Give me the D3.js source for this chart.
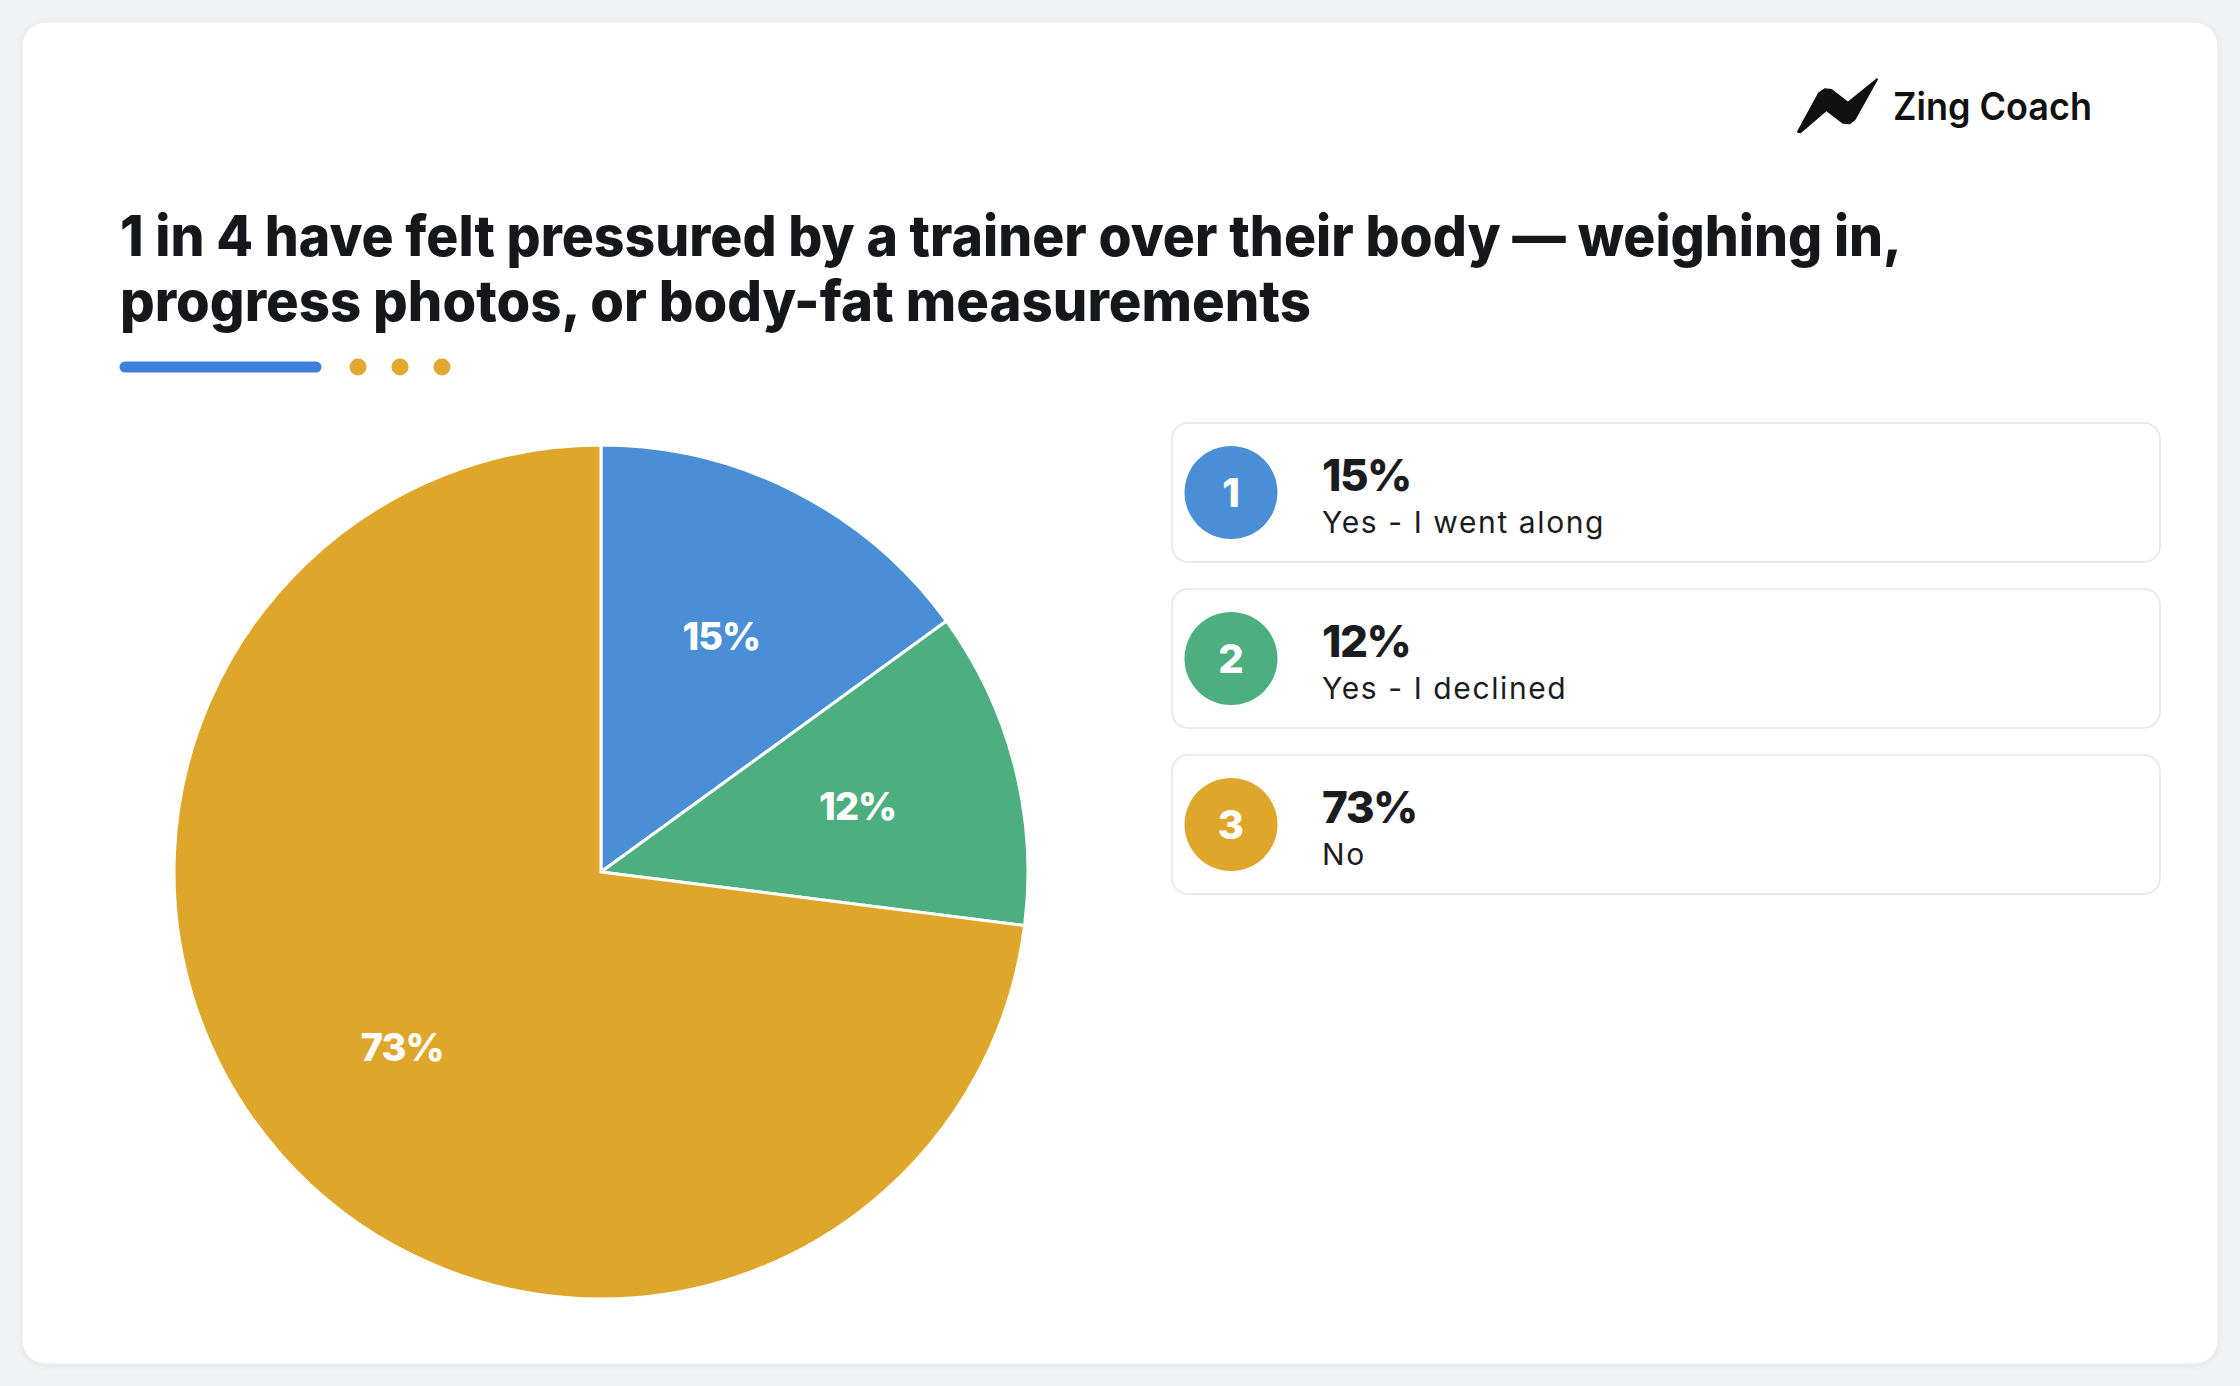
<!DOCTYPE html>
<html>
<head>
<meta charset="utf-8">
<script src="https://cdn.jsdelivr.net/npm/d3@7"></script>
<style>
  html, body { margin: 0; padding: 0; background: #f1f2f4; }
  svg { display: block; }
</style>
</head>
<body>
<svg id="chart" width="2240" height="1386"></svg>
<script>
// ---- data ----
const categories = ["Yes - I went along", "Yes - I declined", "No"];
const values = [15, 12, 73];
const valueLabels = ["15%", "12%", "73%"];
const colors = ["#4a8fd6", "#4daf7f", "#dea72c"];
const titleLines = [
  "1 in 4 have felt pressured by a trainer over their body \u2014 weighing in,",
  "progress photos, or body-fat measurements"
];
const brand = "Zing Coach";

// ---- layout ----
const W = 2240, H = 1386;
const FONT = "Inter, 'Open Sans', 'DejaVu Sans', sans-serif";
const svg = d3.select("#chart");

// page background + card
svg.append("rect").attr("width", W).attr("height", H).attr("fill", "#f1f2f4");
const defs = svg.append("defs");
const f = defs.append("filter").attr("id", "shadow").attr("x", "-5%").attr("y", "-5%").attr("width", "110%").attr("height", "110%");
f.append("feDropShadow").attr("dx", 0).attr("dy", 1).attr("stdDeviation", 3).attr("flood-color", "#000").attr("flood-opacity", 0.06);
svg.append("rect")
  .attr("x", 22).attr("y", 22).attr("width", 2196).attr("height", 1342)
  .attr("rx", 24).attr("fill", "#ffffff").attr("stroke", "#e9eaed").attr("stroke-width", 1)
  .attr("filter", "url(#shadow)");

// ---- logo ----
const logoPts = [[0,52.4],[21,14],[26.7,10],[33.4,10.7],[50,23.4],[79,0],[56.7,40],[51.7,44],[45,43.4],[28.4,30.7],[2.4,53]];
svg.append("path")
  .attr("transform", "translate(1798,79.3)")
  .attr("d", d3.line().curve(d3.curveLinearClosed)(logoPts))
  .attr("fill", "#111111").attr("stroke", "#111111").attr("stroke-width", 2).attr("stroke-linejoin", "round");
svg.append("text")
  .attr("x", 1893).attr("y", 120)
  .attr("font-family", FONT).attr("font-weight", 600).attr("font-size", 38)
  .attr("fill", "#111111")
  .attr("textLength", 199).attr("lengthAdjust", "spacingAndGlyphs")
  .text(brand);

// ---- title ----
const titleWidths = [1782, 1191];
const titleG = svg.append("g");
titleLines.forEach((t, i) => {
  titleG.append("text")
    .attr("x", 120).attr("y", 256 + i * 65)
    .attr("font-family", FONT).attr("font-weight", 800).attr("font-size", 56)
    .attr("fill", "#15171a")
    .attr("textLength", titleWidths[i]).attr("lengthAdjust", "spacingAndGlyphs")
    .text(t);
});

// accent bar + dots
svg.append("line")
  .attr("x1", 125).attr("x2", 316).attr("y1", 367).attr("y2", 367)
  .attr("stroke", "#3d7fda").attr("stroke-width", 11).attr("stroke-linecap", "round");
[358, 400, 442].forEach(cx => {
  svg.append("circle").attr("cx", cx).attr("cy", 367).attr("r", 8.5).attr("fill", "#e0a82f");
});

// ---- pie ----
const cx = 601, cy = 872, R = 427;
const pie = d3.pie().sort(null).value(d => d)(values);
const arc = d3.arc().innerRadius(0).outerRadius(R);
const labelArc = d3.arc().innerRadius(265).outerRadius(265);
const pg = svg.append("g").attr("transform", `translate(${cx},${cy})`);
pg.selectAll("path.slice").data(pie).join("path")
  .attr("class", "slice")
  .attr("d", arc)
  .attr("fill", (d, i) => colors[i])
  .attr("stroke", "#ffffff").attr("stroke-width", 3).attr("stroke-linejoin", "round");
pg.selectAll("text.plabel").data(pie).join("text")
  .attr("class", "plabel")
  .attr("transform", d => `translate(${labelArc.centroid(d)})`)
  .attr("text-anchor", "middle").attr("dy", "0.36em")
  .attr("font-family", FONT).attr("font-weight", 800).attr("font-size", 38)
  .attr("letter-spacing", -1)
  .attr("fill", "#ffffff")
  .text((d, i) => valueLabels[i]);

// ---- legend ----
const lx = 1172, ly0 = 423, lw = 988, lh = 139, lstep = 166;
const lg = svg.selectAll("g.leg").data(categories).join("g")
  .attr("class", "leg")
  .attr("transform", (d, i) => `translate(${lx},${ly0 + i * lstep})`);
lg.append("rect")
  .attr("width", lw).attr("height", lh).attr("rx", 16)
  .attr("fill", "#ffffff").attr("stroke", "#e3e5e8").attr("stroke-width", 1.5);
lg.append("circle")
  .attr("cx", 59).attr("cy", lh / 2).attr("r", 46.5)
  .attr("fill", (d, i) => colors[i]);
lg.append("text")
  .attr("x", 59).attr("y", lh / 2).attr("dy", "0.36em")
  .attr("text-anchor", "middle")
  .attr("font-family", FONT).attr("font-weight", 800).attr("font-size", 40)
  .attr("fill", "#ffffff")
  .text((d, i) => i + 1);
lg.append("text")
  .attr("x", 150).attr("y", 68)
  .attr("font-family", FONT).attr("font-weight", 800).attr("font-size", 44)
  .attr("letter-spacing", -1.5)
  .attr("fill", "#1b1c1e")
  .text((d, i) => valueLabels[i]);
lg.append("text")
  .attr("x", 150).attr("y", 110)
  .attr("font-family", FONT).attr("font-weight", 400).attr("font-size", 30)
  .attr("letter-spacing", 1.6)
  .attr("fill", "#1b1c1e")
  .text(d => d);
</script>
</body>
</html>
